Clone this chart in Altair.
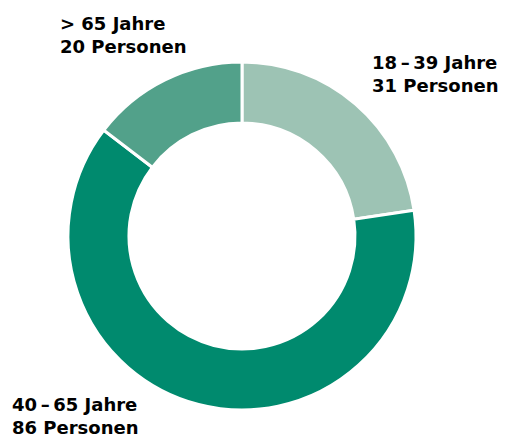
import altair as alt
import pandas as pd

groups = ["18–39 Jahre", "40–65 Jahre", "> 65 Jahre"]
counts = [31, 86, 20]
colors = ["#9dc3b4", "#008a6e", "#52a18a"]
line1 = ["18\u2009–\u200939 Jahre", "40\u2009–\u200965 Jahre", "> 65 Jahre"]
line2 = [f"{c} Personen" for c in counts]

df = pd.DataFrame({"group": groups, "count": counts, "idx": [0, 1, 2]})

arc = alt.Chart(df).mark_arc(
    outerRadius=174, innerRadius=113, stroke="white", strokeWidth=3
).encode(
    theta=alt.Theta("count:Q", stack=True),
    color=alt.Color("group:N", scale=alt.Scale(domain=groups, range=colors), legend=None),
    order=alt.Order("idx:Q"),
    x=alt.value(242),
    y=alt.value(236),
)

label_pos = {"18–39 Jahre": (372, 69), "40–65 Jahre": (12, 411), "> 65 Jahre": (60, 30)}

layers = [arc]
for g, l1, l2 in zip(groups, line1, line2):
    lx, ly = label_pos[g]
    t = alt.Chart(pd.DataFrame({"t": [l1 + "\n" + l2]})).mark_text(
        align="left", baseline="alphabetic", font="DejaVu Sans", fontWeight="bold",
        fontSize=18, lineHeight=23, color="black", lineBreak="\n"
    ).encode(text="t:N", x=alt.value(lx), y=alt.value(ly))
    layers.append(t)

chart = alt.layer(*layers).properties(
    width=505, height=437, padding=0, autosize=alt.AutoSizeParams(type="none")
).configure_view(strokeWidth=0)

chart.save("out.html", embed_options={"renderer": "svg", "actions": False})
